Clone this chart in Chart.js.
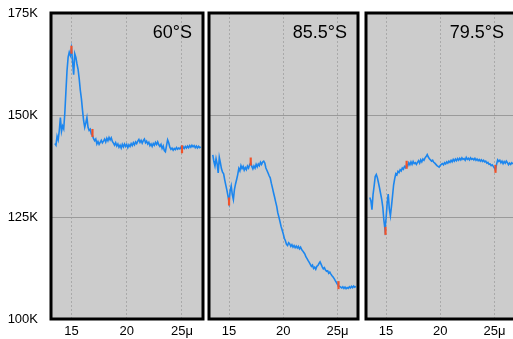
<!DOCTYPE html>
<html><head><meta charset="utf-8">
<script src="https://cdn.jsdelivr.net/npm/chart.js@4/dist/chart.umd.min.js"></script>
<style>
html,body{margin:0;padding:0;background:#fff;width:513px;height:339px;overflow:hidden;position:relative}
canvas{position:absolute;left:0;top:0}
</style></head><body>
<canvas id="c1" width="530" height="339"></canvas>
<canvas id="c2" width="530" height="339"></canvas>
<canvas id="c3" width="530" height="339"></canvas>
<script>
const wavelengths = [13.5,13.6,13.7,13.8,13.9,14.0,14.1,14.2,14.3,14.4,
14.5,14.6,14.7,14.8,14.9,15.0,15.1,15.2,15.3,15.4,
15.5,15.6,15.7,15.8,15.9,16.0,16.1,16.2,16.3,16.4,
16.5,16.6,16.7,16.8,16.9,17.0,17.1,17.2,17.3,17.4,
17.5,17.6,17.7,17.8,17.9,18.0,18.1,18.2,18.3,18.4,
18.5,18.6,18.7,18.8,18.9,19.0,19.1,19.2,19.3,19.4,
19.5,19.6,19.7,19.8,19.9,20.0,20.1,20.2,20.3,20.4,
20.5,20.6,20.7,20.8,20.9,21.0,21.1,21.2,21.3,21.4,
21.5,21.6,21.7,21.8,21.9,22.0,22.1,22.2,22.3,22.4,
22.5,22.6,22.7,22.8,22.9,23.0,23.1,23.2,23.3,23.4,
23.5,23.6,23.7,23.8,23.9,24.0,24.1,24.2,24.3,24.4,
24.5,24.6,24.7,24.8,24.9,25.0,25.1,25.2,25.3,25.4,
25.5,25.6,25.7,25.8,25.9,26.0,26.1,26.2,26.3,26.4,
26.5,26.6,26.7];

const temp60S = [143.0,142.6,144.8,143.9,146.2,149.4,146.0,147.3,146.6,150.5,
155.8,160.9,164.2,165.4,164.6,166.3,163.2,159.9,165.0,164.1,
162.5,161.2,158.9,156.1,154.0,151.2,148.6,147.0,148.1,149.4,
147.0,146.2,146.5,145.3,145.0,144.2,143.7,144.1,142.9,143.5,
142.8,143.3,143.8,143.2,143.6,144.1,143.4,144.3,143.7,144.5,
143.9,144.4,143.5,143.1,142.6,143.2,142.4,142.9,142.1,142.6,
141.9,142.8,142.2,142.9,142.3,142.8,142.0,142.7,142.3,143.0,
142.5,143.2,142.7,143.4,143.0,143.6,144.0,143.3,143.8,143.1,
143.7,144.1,143.2,143.6,142.9,143.3,142.5,142.9,142.3,143.0,
142.6,143.3,142.8,143.4,142.7,142.3,142.8,141.8,142.4,141.3,
141.0,142.5,143.9,143.2,142.1,141.6,141.9,141.4,141.8,141.5,
142.0,141.6,141.9,141.7,142.1,141.5,142.2,141.8,142.3,141.9,
142.4,142.0,142.5,142.1,142.6,142.2,142.5,142.0,142.4,141.9,
142.3,142.0,142.2];

const temp855S = [140.2,138.6,137.5,139.3,138.0,135.8,139.6,138.3,136.8,136.0,
135.6,134.1,132.8,131.6,130.2,128.6,131.4,132.6,130.5,129.3,
131.8,133.1,134.2,135.4,136.9,136.3,137.6,136.9,137.4,136.5,
137.1,136.6,137.5,137.0,137.8,138.3,137.4,136.8,137.5,137.0,
137.9,137.3,138.0,137.6,138.4,137.9,138.5,138.7,138.2,137.0,
136.4,135.8,135.1,134.6,133.3,132.2,131.0,129.9,128.7,127.6,
126.0,125.0,123.9,122.7,121.8,120.9,119.8,119.2,118.3,118.0,
118.7,118.4,117.8,118.2,117.6,118.0,117.5,117.9,117.4,117.8,
117.2,117.6,117.0,116.7,116.3,115.9,115.2,114.8,114.3,113.9,
113.4,112.9,113.2,112.4,112.7,112.2,112.9,113.1,113.6,114.0,
113.4,112.8,112.3,112.6,112.0,111.7,111.8,111.2,111.5,111.0,
110.6,110.3,109.9,109.4,109.0,108.5,108.2,108.0,107.8,107.6,
107.9,107.5,107.8,107.4,107.7,107.5,107.9,107.6,108.0,107.7,
108.1,107.8,108.0];

const temp795S = [129.8,129.0,126.8,130.5,132.6,134.9,135.4,134.6,133.4,132.1,
130.7,129.3,127.4,124.2,122.0,124.6,128.2,130.6,127.0,125.3,
127.6,130.2,132.9,134.4,135.6,135.3,136.2,135.9,136.6,136.3,
137.0,136.7,137.4,137.1,137.9,137.5,138.3,137.8,138.5,137.9,
138.6,138.1,138.3,137.9,138.4,138.8,138.2,139.0,138.5,139.2,
138.9,139.5,139.8,140.3,139.7,139.3,139.0,138.7,138.9,138.4,
138.2,137.9,137.6,137.4,137.2,137.6,137.9,138.1,137.8,138.3,
138.0,138.5,138.2,138.7,138.4,138.9,138.5,139.1,138.7,139.2,
138.8,139.3,138.9,139.4,139.0,139.5,139.1,139.3,138.9,139.6,
139.1,139.4,139.0,139.5,139.1,139.3,139.0,139.4,138.9,139.2,
138.8,139.1,138.7,139.0,138.6,138.9,138.5,138.7,138.2,138.4,
137.9,138.0,137.6,137.8,137.4,137.0,136.6,137.9,139.0,138.6,
138.9,138.3,138.7,138.1,138.6,138.2,138.7,138.3,137.8,138.2,
137.9,138.3,138.0];

const redX60S = [15.0, 16.9, 25.0];
const redY60S = [166.0, 145.6, 141.6];
const redX855S = [15.0, 17.0, 25.1];
const redY855S = [128.8, 138.6, 108.3];
const redX795S = [14.95, 16.9, 25.1];
const redY795S = [121.6, 137.8, 136.8];

const panelTitles = ['60°S', '85.5°S', '79.5°S'];
const xTicks = [15, 20, 25];
const xTickLabels = ['15', '20', '25μ'];
const yTicks = [100, 125, 150, 175];
const yTickLabels = ['100K', '125K', '150K', '175K'];

const FONT = '"Liberation Sans", Arial, Helvetica, sans-serif';

function panelPlugin(title) {
  return {
    id: 'panelDeco',
    beforeDatasetsDraw(chart) {
      const a = chart.chartArea, ctx = chart.ctx;
      ctx.save();
      ctx.globalCompositeOperation = 'destination-over';
      ctx.fillStyle = '#cccccc';
      ctx.fillRect(a.left, a.top, a.right - a.left, a.bottom - a.top);
      ctx.restore();
    },
    afterDraw(chart) {
      const a = chart.chartArea, ctx = chart.ctx;
      ctx.save();
      ctx.strokeStyle = '#000';
      ctx.lineWidth = 3;
      ctx.strokeRect(a.left, a.top, a.right - a.left, a.bottom - a.top);
      ctx.fillStyle = '#000';
      ctx.font = '18px ' + FONT;
      ctx.textAlign = 'right';
      ctx.textBaseline = 'alphabetic';
      ctx.fillText(title, a.right - 11, a.top + 25);
      ctx.restore();
    }
  };
}

function makePanel(id, title, ys, rx, ry, left, right, showY) {
  const canvas = document.getElementById(id);
  const W = canvas.width;
  const blue = wavelengths.map((x, i) => ({x: x, y: ys[i]}));
  const red = rx.map((x, i) => ({x: x, y: ry[i]}));
  new Chart(canvas, {
    type: 'line',
    data: {
      datasets: [
        {data: red, showLine: false, pointStyle: 'line', rotation: 90, pointRadius: 4,
         borderColor: '#f0522a', backgroundColor: '#f0522a', pointBorderWidth: 2.2},
        {data: blue, borderColor: '#1c86ee', borderWidth: 1.6, pointRadius: 0, tension: 0, fill: false}
      ]
    },
    options: {
      responsive: false,
      animation: false,
      devicePixelRatio: 1,
      events: [],
      layout: {padding: {left: showY ? 0 : left, right: W - right, top: 13, bottom: 0}},
      plugins: {legend: {display: false}, tooltip: {enabled: false}},
      scales: {
        x: {
          type: 'linear', min: 13.15, max: 26.9,
          afterBuildTicks: s => { s.ticks = xTicks.map(v => ({value: v})); },
          afterFit: s => { s.height = 20; s.paddingLeft = 0; s.paddingRight = 0; },
          grid: {color: '#a9a9a9', lineWidth: 1, drawTicks: false},
          border: {display: false, dash: [2, 2]},
          ticks: {
            padding: 5, color: '#000', font: {family: FONT, size: 13},
            maxRotation: 0, autoSkip: false,
            callback: v => xTickLabels[xTicks.indexOf(v)]
          }
        },
        y: {
          min: 100, max: 175,
          afterBuildTicks: s => { s.ticks = yTicks.map(v => ({value: v})); },
          afterFit: s => { s.width = showY ? left : 0; s.paddingTop = 0; s.paddingBottom = 0; },
          grid: {color: '#9a9a9a', lineWidth: 1, drawTicks: false},
          border: {display: false},
          ticks: {
            display: showY, padding: 13, color: '#000', font: {family: FONT, size: 13},
            callback: v => yTickLabels[yTicks.indexOf(v)]
          }
        }
      }
    },
    plugins: [panelPlugin(title)]
  });
}

makePanel('c1', panelTitles[0], temp60S, redX60S, redY60S, 51, 203, true);
makePanel('c2', panelTitles[1], temp855S, redX855S, redY855S, 209, 358, false);
makePanel('c3', panelTitles[2], temp795S, redX795S, redY795S, 366, 515, false);
</script>
</body></html>
